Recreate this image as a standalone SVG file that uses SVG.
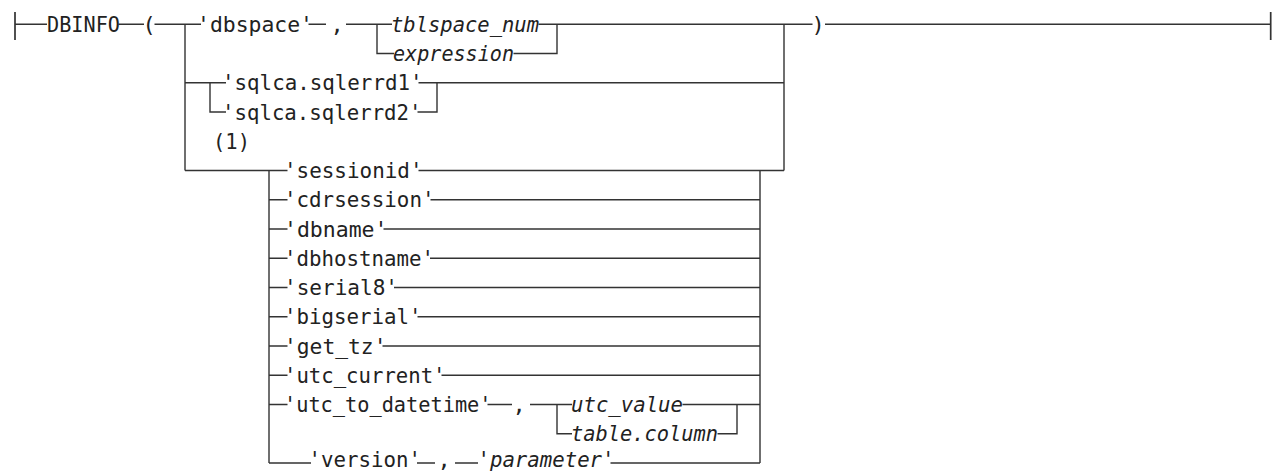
<svg xmlns="http://www.w3.org/2000/svg" width="1273" height="472" viewBox="0 0 1273 472">
<style>
.t{font-family:"DejaVu Sans Mono","Liberation Mono",monospace;font-size:22px;fill:#222;}
.i{font-style:italic;}
.c{text-anchor:middle;}
.ln{fill:none;stroke:#333;stroke-width:1.4;}
.bar{fill:none;stroke:#333;stroke-width:1.7;}
</style>
<rect width="1273" height="472" fill="#fff"/>
<g id="connectors">
<path class="bar" d="M15 12V40M1270.7 12V40"/>
<path class="ln" d="M15 24.3H47M118.5 24.3H144M154.5 24.3H201M308.5 24.3H326M346 24.3H392M538.5 24.3H812.5M825 24.3H1270.7"/>
<path class="ln" d="M185 24.3V170.5M377 24.3V53.5H394M513.5 53.5H557V24.3"/>
<path class="ln" d="M185 82.8H226M210 82.8V112H226M418.5 82.8H784M417.5 112H437V82.8M784 24.3V170.5"/>
<path class="ln" d="M185 170.5H287.5M269 170.5V463M418.5 170.5H784M760 170.5V463"/>
<path class="ln" d="M269 199.8H287.5M269 229H287.5M269 258.3H287.5M269 287.5H287.5M269 316.8H287.5M269 346H287.5M269 375.3H287.5M269 404.5H287.5"/>
<path class="ln" d="M430.5 199.8H760M383.5 229H760M430 258.3H760M394 287.5H760M417.5 316.8H760M382.5 346H760M441.5 375.3H760"/>
<path class="ln" d="M487.5 404.5H512M530 404.5H572M557 404.5V433.8H572M682.5 404.5H760M717.5 433.8H737V404.5"/>
<path class="ln" d="M269 463H311M417 463H435M455 463H478M610.5 463H760"/>
</g>
<g id="n-dbinfo"><text class="t" x="47" y="31.8" textLength="73" lengthAdjust="spacingAndGlyphs">DBINFO</text></g>
<g id="n-lparen"><text class="t c" x="149" y="31.8">(</text></g>
<g id="n-rparen"><text class="t c" x="818" y="31.8">)</text></g>
<g id="n-dbspace"><text class="t" x="197" y="31.8" textLength="116" lengthAdjust="spacingAndGlyphs">'dbspace'</text></g>
<g id="n-comma1"><text class="t c" x="337" y="31.8">,</text></g>
<g id="n-tblspace"><text class="t i" x="391" y="31.8" textLength="148" lengthAdjust="spacingAndGlyphs">tblspace_num</text></g>
<g id="n-expression"><text class="t i" x="393" y="61" textLength="121" lengthAdjust="spacingAndGlyphs">expression</text></g>
<g id="n-sqlerrd1"><text class="t" x="222" y="90.3" textLength="200.5" lengthAdjust="spacingAndGlyphs">'sqlca.sqlerrd1'</text></g>
<g id="n-sqlerrd2"><text class="t" x="222" y="119.5" textLength="199.5" lengthAdjust="spacingAndGlyphs">'sqlca.sqlerrd2'</text></g>
<g id="n-note1"><text class="t" x="213" y="148.5" textLength="37" lengthAdjust="spacingAndGlyphs">(1)</text></g>
<g id="n-sessionid"><text class="t" x="284" y="178" textLength="138.5" lengthAdjust="spacingAndGlyphs">'sessionid'</text></g>
<g id="n-cdrsession"><text class="t" x="284" y="207.3" textLength="150.5" lengthAdjust="spacingAndGlyphs">'cdrsession'</text></g>
<g id="n-dbname"><text class="t" x="284" y="236.5" textLength="103.5" lengthAdjust="spacingAndGlyphs">'dbname'</text></g>
<g id="n-dbhostname"><text class="t" x="284" y="265.8" textLength="150" lengthAdjust="spacingAndGlyphs">'dbhostname'</text></g>
<g id="n-serial8"><text class="t" x="284" y="295" textLength="114" lengthAdjust="spacingAndGlyphs">'serial8'</text></g>
<g id="n-bigserial"><text class="t" x="284" y="324.3" textLength="137.5" lengthAdjust="spacingAndGlyphs">'bigserial'</text></g>
<g id="n-get_tz"><text class="t" x="284" y="353.5" textLength="102.5" lengthAdjust="spacingAndGlyphs">'get_tz'</text></g>
<g id="n-utc_current"><text class="t" x="284" y="382.8" textLength="161.5" lengthAdjust="spacingAndGlyphs">'utc_current'</text></g>
<g id="n-utc_to_datetime"><text class="t" x="284" y="412" textLength="207.5" lengthAdjust="spacingAndGlyphs">'utc_to_datetime'</text></g>
<g id="n-comma2"><text class="t c" x="519" y="412">,</text></g>
<g id="n-utc_value"><text class="t i" x="571" y="412" textLength="112" lengthAdjust="spacingAndGlyphs">utc_value</text></g>
<g id="n-table_column"><text class="t i" x="571" y="441.3" textLength="147" lengthAdjust="spacingAndGlyphs">table.column</text></g>
<g id="n-version"><text class="t" x="308.5" y="467" textLength="112.5" lengthAdjust="spacingAndGlyphs">'version'</text></g>
<g id="n-comma3"><text class="t c" x="444" y="467">,</text></g>
<g id="n-parameter"><text class="t i" x="477.5" y="467" font-size="21" textLength="137" lengthAdjust="spacingAndGlyphs">'parameter'</text></g>
</svg>
